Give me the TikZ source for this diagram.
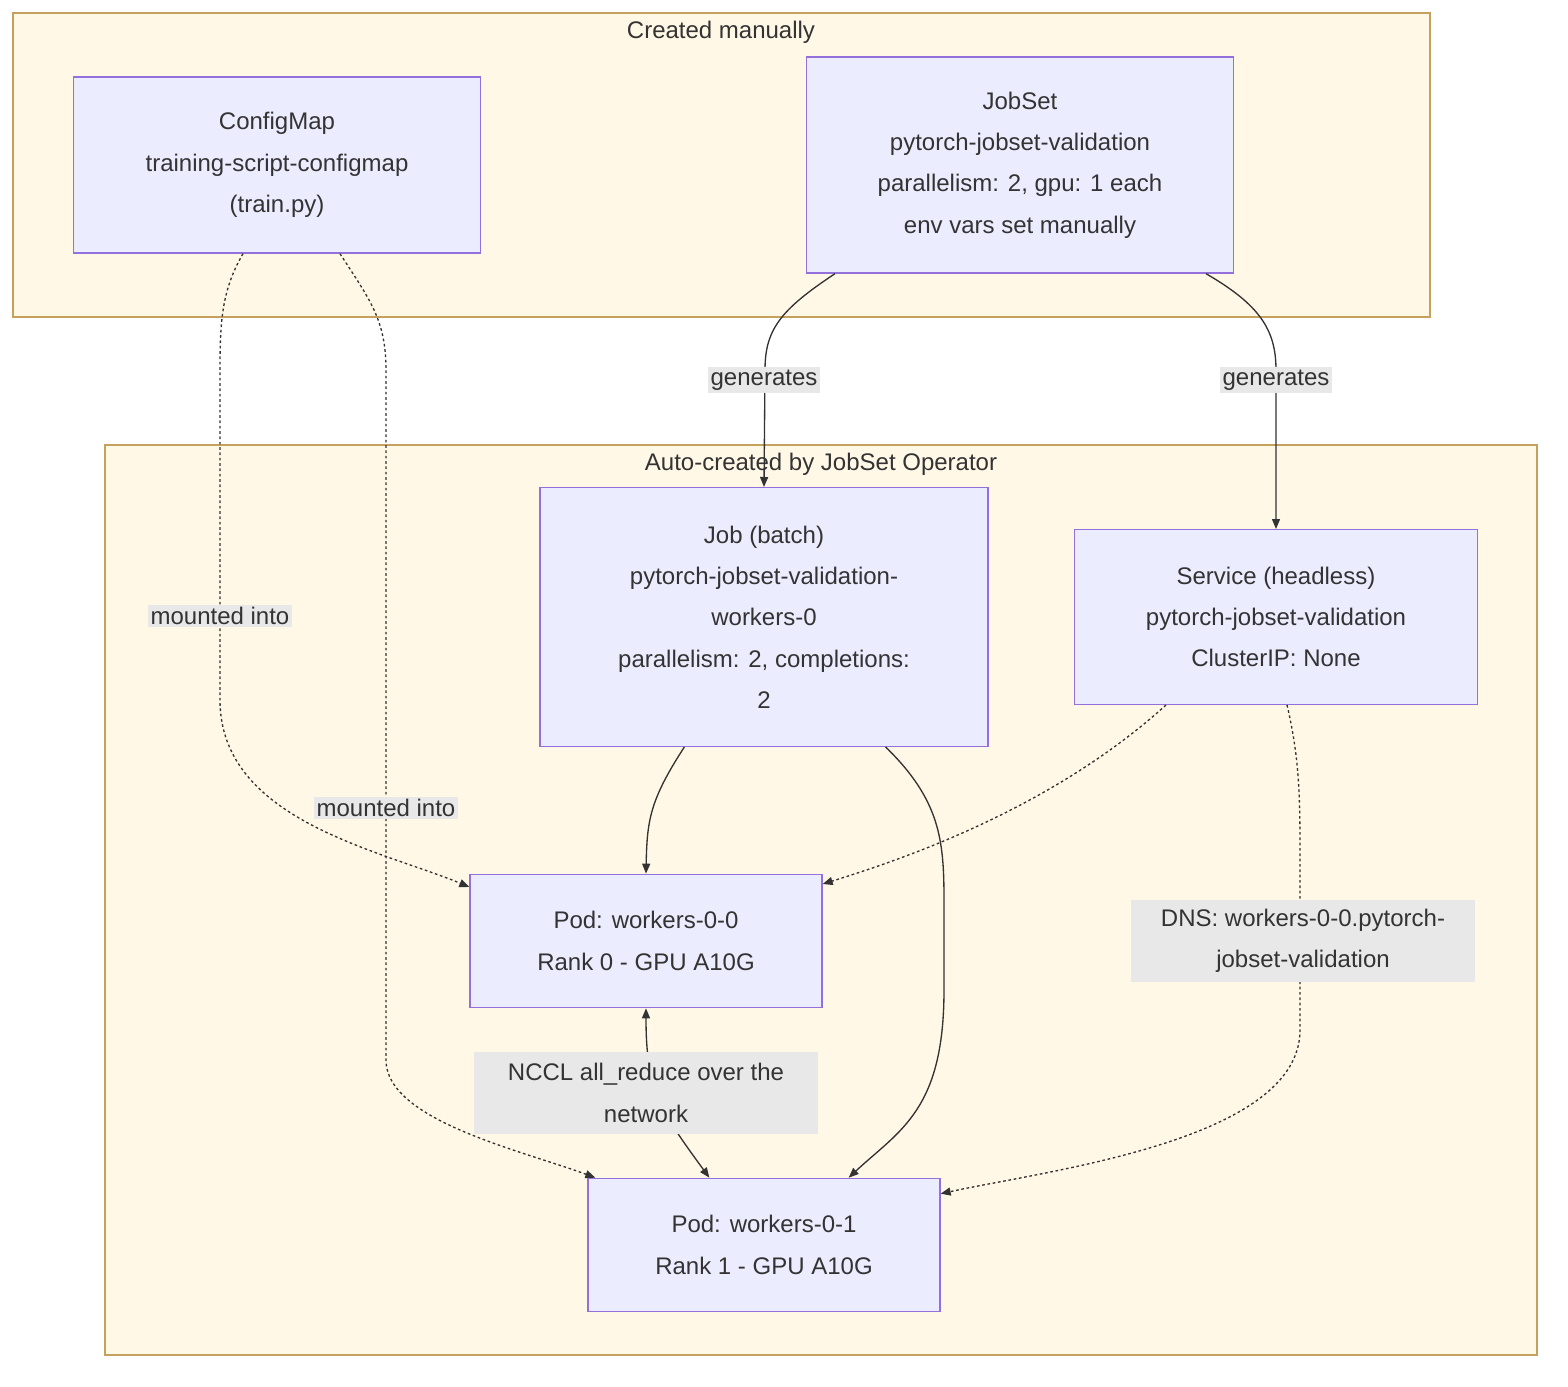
\documentclass[tikz,border=0pt]{standalone}
\usepackage{fontspec}
\setmainfont{Liberation Sans}
\usetikzlibrary{arrows.meta,calc}
\definecolor{nfill}{HTML}{ECECFF}
\definecolor{ndraw}{HTML}{9370DB}
\definecolor{cfill}{HTML}{FFF8E6}
\definecolor{cdraw}{HTML}{C6A15B}
\definecolor{lbg}{HTML}{E8E8E8}
\definecolor{txt}{HTML}{333333}
\tikzset{
  box/.style={draw=ndraw,fill=nfill,line width=1pt,text=txt,align=center,font=\fontsize{18}{31}\selectfont,inner sep=0pt},
  clus/.style={draw=cdraw,fill=cfill,line width=1.3pt},
  ctitle/.style={text=txt,font=\fontsize{18}{22}\selectfont},
  elab/.style={fill=lbg,text=txt,align=center,font=\fontsize{18}{31}\selectfont,inner sep=2pt},
  solidarrow/.style={draw=txt,line width=1pt,-{Triangle[length=7.5pt,width=6pt]}},
  dotarrow/.style={solidarrow,dash pattern=on 2pt off 2pt},
}
\begin{document}
\begin{tikzpicture}[x=0.75pt,y=-0.75pt]
\useasboundingbox (0,0) rectangle (1568,1386);
\draw[clus] (13,13) rectangle (1430,317);
\node[ctitle] (t1) at (721,32) {Created manually};
\draw[clus] (105,445) rectangle (1537,1355);
\node[ctitle] (t2) at (821,464) {Auto-created by JobSet Operator};

\node[box,minimum width=305pt,minimum height=132pt] (cm) at (277,165) {ConfigMap\\training-script-configmap\\(train.py)};
\node[box,minimum width=320pt,minimum height=162pt] (js) at (1020,165) {JobSet\\pytorch-jobset-validation\\parallelism: 2, gpu: 1 each\\env vars set manually};
\node[box,minimum width=336pt,minimum height=194pt] (job) at (764,617) {Job (batch)\\pytorch-jobset-validation-\\workers-0\\parallelism: 2, completions:\\2};
\node[box,minimum width=302pt,minimum height=131pt] (svc) at (1276,617) {Service (headless)\\pytorch-jobset-validation\\ClusterIP: None};
\node[box,minimum width=264pt,minimum height=100pt] (p0) at (646,941) {Pod: workers-0-0\\Rank 0 - GPU A10G};
\node[box,minimum width=264pt,minimum height=100pt] (p1) at (764,1245) {Pod: workers-0-1\\Rank 1 - GPU A10G};

% edges
\draw[solidarrow] ($(js.south west)+(29,0)$) .. controls (780,310) and (765,330) .. (765,370) -- (job.north);
\draw[solidarrow] ($(js.south east)+(-28,0)$) .. controls (1260,305) and (1276,330) .. (1276,370) -- (svc.north);
\draw[dotarrow] ($(cm.south)+(-34,0)$) .. controls (222,290) and (220,320) .. (220,370) -- (220,700) .. controls (220,820) and (380,850) .. ($(p0.west)+(0,-54)$);
\draw[dotarrow] ($(cm.south)+(63,0)$) .. controls (370,300) and (386,320) .. (386,370) -- (386,1060) .. controls (386,1120) and (520,1150) .. ($(p1.north west)+(8,0)$);
\draw[solidarrow] ($(job.south west)+(145,0)$) .. controls (650,800) and (647,820) .. (p0.north);
\draw[solidarrow] ($(job.south east)+(-103,0)$) .. controls (940,800) and (944,840) .. (944,900) -- (944,990) .. controls (944,1110) and (900,1130) .. ($(p1.north east)+(-92,0)$);
\draw[dotarrow] ($(svc.south west)+(92,0)$) .. controls (1050,810) and (900,860) .. ($(p0.east)+(0,-57)$);
\draw[dotarrow] ($(svc.south west)+(213,0)$) .. controls (1300,760) and (1300,800) .. (1300,860) -- (1300,1030) .. controls (1300,1140) and (1050,1170) .. ($(p1.north east)+(0,16)$);
\draw[solidarrow,{Triangle[length=7.5pt,width=6pt]}-{Triangle[length=7.5pt,width=6pt]}] (p0.south) .. controls (646,1090) and (660,1110) .. ($(p1.north west)+(122,0)$);

% labels
\node[elab] (l1) at (764,380) {generates};
\node[elab] (l2) at (1276,380) {generates};
\node[elab] (l3) at (220,616) {mounted into};
\node[elab] (l4) at (386,808) {mounted into};
\node[elab,minimum width=258pt,minimum height=61pt] (l5) at (1303,941) {DNS: workers-0-0.pytorch-\\jobset-validation};
\node[elab,minimum width=258pt,minimum height=61pt] (l6) at (646,1093) {NCCL all\_reduce over the\\network};
\end{tikzpicture}
\end{document}
